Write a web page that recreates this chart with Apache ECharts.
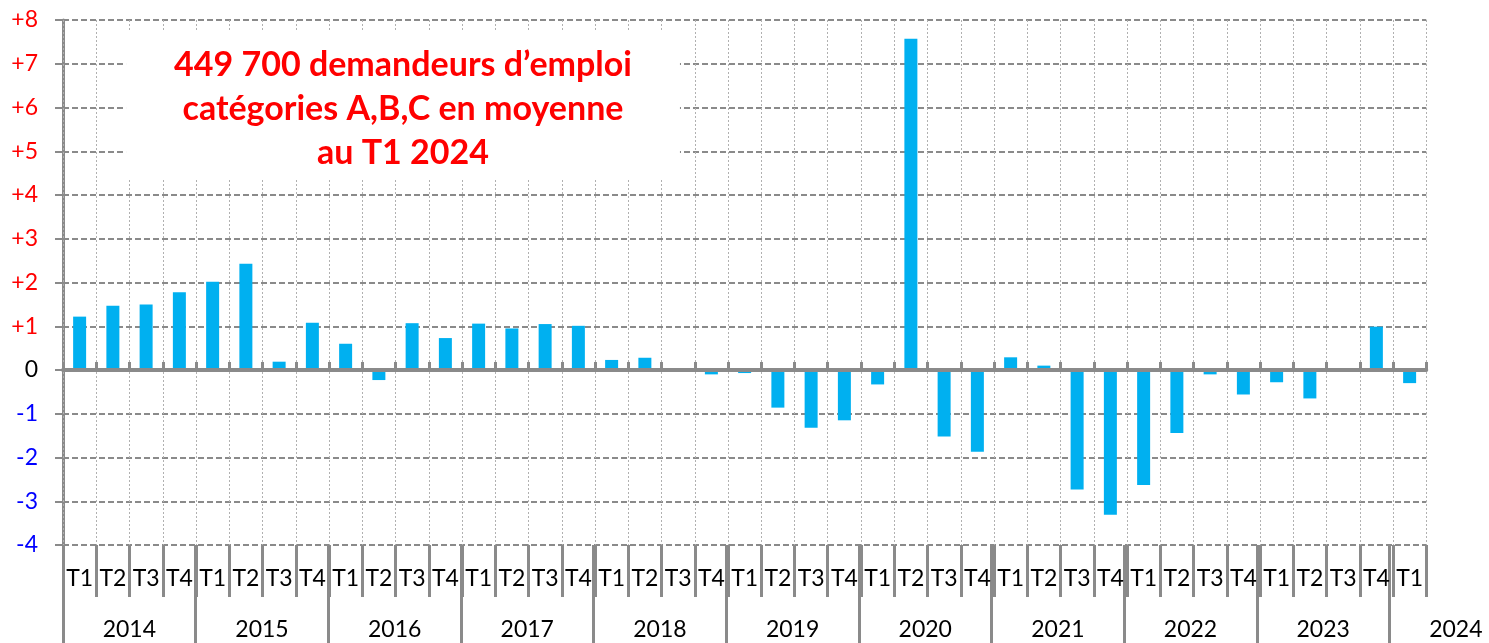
<!DOCTYPE html>
<html>
<head>
<meta charset="utf-8">
<script src="https://cdn.jsdelivr.net/npm/echarts@6/dist/echarts.min.js"></script>
<style>
  html, body { margin: 0; padding: 0; background: #fff; }
  #chart { width: 1489px; height: 643px; }
</style>
</head>
<body>
<div id="chart"></div>
<script>
// trimestres, de 2014 T1 à 2024 T1
const quarters = [
  'T1','T2','T3','T4', 'T1','T2','T3','T4', 'T1','T2','T3','T4',
  'T1','T2','T3','T4', 'T1','T2','T3','T4', 'T1','T2','T3','T4',
  'T1','T2','T3','T4', 'T1','T2','T3','T4', 'T1','T2','T3','T4',
  'T1','T2','T3','T4', 'T1'
];
const years = ['2014','2015','2016','2017','2018','2019','2020','2021','2022','2023','2024'];

// variation trimestrielle (milliers)
const variation = [
  1.22, 1.47, 1.50, 1.78,
  2.02, 2.43, 0.19, 1.08,
  0.60, -0.23, 1.07, 0.73,
  1.06, 0.95, 1.05, 1.01,
  0.23, 0.28, 0, -0.10,
  -0.07, -0.86, -1.32, -1.15,
  -0.33, 7.57, -1.52, -1.87,
  0.29, 0.10, -2.73, -3.31,
  -2.63, -1.44, -0.10, -0.56,
  -0.28, -0.65, 0, 0.99,
  -0.30
];

const titleLines = [
  '449 700 demandeurs d\u2019emploi',
  'catégories A,B,C en moyenne',
  'au T1 2024'
];

const FONT = 'Lato, "Open Sans", sans-serif';
const axisGrey = '#8a8a8a';

// axe des années : points aux frontières de trimestres (4 par an)
const yearPoints = [];
for (let i = 0; i < 44; i++) {
  yearPoints.push(i % 4 === 2 ? years[Math.floor(i / 4)] : '');
}

const chart = echarts.init(document.getElementById('chart'));

const option = {
  animation: false,
  backgroundColor: '#fff',
  textStyle: { fontFamily: FONT },
  grid: [
    { left: 63, right: 62.75, top: 20, bottom: 98 },
    { left: 63, right: -3.75, top: 20, bottom: 98 }
  ],
  graphic: [
    {
      type: 'text',
      z: 100,
      x: 403,
      y: 30,
      style: {
        text: titleLines.join('\n'),
        align: 'center',
        verticalAlign: 'top',
        fill: '#ff0000',
        font: 'bold 34px ' + FONT,
        lineHeight: 44,
        backgroundColor: '#fff',
        padding: [13, 48, 5, 48]
      }
    }
  ],
  xAxis: [
    {
      // axe au zéro
      type: 'category',
      gridIndex: 0,
      data: quarters,
      z: 3,
      axisLine: { onZero: true, lineStyle: { color: axisGrey, width: 4 } },
      axisTick: { show: true, inside: true, length: 8, interval: 0, lineStyle: { color: axisGrey, width: 3 } },
      axisLabel: { show: false },
      splitLine: { show: true, interval: 0, lineStyle: { color: '#b0b0b0', width: 1, type: [2, 2] } }
    },
    {
      // libellés des trimestres en bas
      type: 'category',
      gridIndex: 0,
      position: 'bottom',
      data: quarters,
      axisLine: { show: false, onZero: false },
      axisTick: { show: true, length: 52, interval: 0, lineStyle: { color: axisGrey, width: 3 } },
      axisLabel: { interval: 0, margin: 34, fontSize: 23, color: '#000', fontFamily: FONT, verticalAlign: 'middle' },
      splitLine: { show: false }
    },
    {
      // années
      type: 'category',
      gridIndex: 1,
      position: 'bottom',
      boundaryGap: false,
      data: yearPoints,
      axisLine: { show: false, onZero: false },
      axisTick: {
        show: true, length: 100,
        interval: (idx) => idx % 4 === 0 && idx <= 40,
        lineStyle: { color: axisGrey, width: 3 }
      },
      axisLabel: {
        interval: (idx) => idx % 4 === 2,
        margin: 85, fontSize: 23, color: '#000', fontFamily: FONT, verticalAlign: 'middle'
      },
      splitLine: { show: false }
    }
  ],
  yAxis: [
    {
      type: 'value',
      gridIndex: 0,
      min: -4,
      max: 8,
      interval: 1,
      axisLine: { show: true, lineStyle: { color: axisGrey, width: 3 } },
      axisTick: { show: true, length: 8, lineStyle: { color: axisGrey, width: 2 } },
      splitLine: { show: true, lineStyle: { color: axisGrey, width: 2, type: [6, 3] } },
      axisLabel: {
        margin: 25,
        formatter: (v) => {
          if (v > 0) return '{p|+' + v + '}';
          if (v < 0) return '{n|' + v + '}';
          return '{z|0}';
        },
        rich: {
          p: { color: '#ff0000', fontSize: 23, fontFamily: FONT },
          n: { color: '#0000ff', fontSize: 23, fontFamily: FONT },
          z: { color: '#000', fontSize: 23, fontFamily: FONT }
        }
      }
    },
    { type: 'value', gridIndex: 1, show: false, min: -4, max: 8 }
  ],
  series: [
    {
      type: 'bar',
      xAxisIndex: 0,
      yAxisIndex: 0,
      data: variation,
      barWidth: 13,
      itemStyle: { color: '#00b0f0' }
    }
  ]
};

chart.setOption(option);
</script>
</body>
</html>
